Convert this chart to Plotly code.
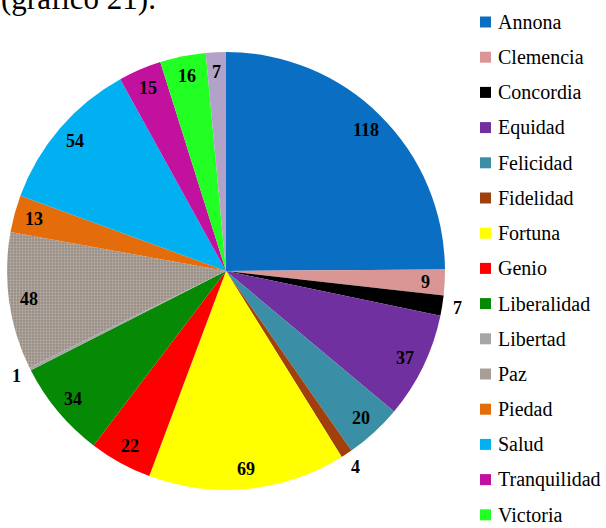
import math
import plotly.graph_objects as go

# Deities represented on the coins and number of pieces for each
categories = ["Annona", "Clemencia", "Concordia", "Equidad", "Felicidad", "Fidelidad",
              "Fortuna", "Genio", "Liberalidad", "Libertad", "Paz", "Piedad",
              "Salud", "Tranquilidad", "Victoria", "Virtus"]
counts = [118, 9, 7, 37, 20, 4, 69, 22, 34, 1, 48, 13, 54, 15, 16, 7]
colors = ["#0a6fc2", "#d99694", "#000000", "#7030a0", "#3a8ea5", "#a0410d",
          "#ffff00", "#ff0000", "#068a06", "#a6a6a6", "#a89e96", "#e46c0a",
          "#00b0f0", "#c2109f", "#22ff22", "#b3a2c7"]
# legend shows the first fifteen entries
legend_items = categories[:15]
# slices whose value label sits outside the pie
outside = {"Concordia", "Fidelidad", "Libertad"}

SERIF = "Liberation Serif, Times New Roman, serif"
W, H = 606, 528
cx, cy, R = 226, 271, 219  # pie centre and radius in pixels (from top-left)

patterns = [""] * len(categories)
patterns[categories.index("Paz")] = "."

fig = go.Figure()
fig.add_trace(go.Pie(
    labels=categories,
    values=counts,
    sort=False,
    direction="clockwise",
    rotation=0,
    textinfo="none",
    hoverinfo="label+value",
    showlegend=False,
    marker=dict(
        colors=colors,
        line=dict(width=0),
        pattern=dict(shape=patterns, fgcolor="#d8d0c8", bgcolor="#958b83",
                     size=3, solidity=0.45, fillmode="overlay"),
    ),
    domain=dict(x=[(cx - R) / W, (cx + R) / W],
                y=[(H - cy - R) / H, (H - cy + R) / H]),
))

annotations = []
total = sum(counts)
cum = 0
for name, v in zip(categories, counts):
    mid = (cum + v / 2) / total * 2 * math.pi
    cum += v
    r = R * (1.07 if name in outside else 0.91)
    px = cx + r * math.sin(mid)
    py = cy - r * math.cos(mid)
    annotations.append(dict(
        x=px / W, y=(H - py) / H, xref="paper", yref="paper",
        text=f"<b>{v}</b>", showarrow=False, xanchor="center", yanchor="middle",
        font=dict(family=SERIF, size=18, color="#000000"),
    ))

# legend: coloured squares with labels
shapes = []
row0, step = 22, 35.2
for i, name in enumerate(legend_items):
    yc = row0 + i * step
    shapes.append(dict(type="rect", xref="paper", yref="paper",
                       x0=480 / W, x1=491 / W,
                       y0=(H - yc - 5.5) / H, y1=(H - yc + 5.5) / H,
                       fillcolor=colors[i], line=dict(width=0)))
    annotations.append(dict(
        x=496 / W, y=(H - yc) / H, xref="paper", yref="paper",
        text=name, showarrow=False, xanchor="left", yanchor="middle",
        font=dict(family=SERIF, size=20, color="#000000"),
    ))

# running text above the chart
annotations.append(dict(
    x=-0.002, y=(H - 18) / H, xref="paper", yref="paper",
    text="(gráfico 21).", showarrow=False, xanchor="left", yanchor="bottom",
    font=dict(family=SERIF, size=31, color="#000000"),
))

fig.update_layout(
    width=W, height=H,
    margin=dict(l=0, r=0, t=0, b=0),
    paper_bgcolor="#ffffff",
    plot_bgcolor="#ffffff",
    annotations=annotations,
    shapes=shapes,
)

fig.write_html("out.html")
